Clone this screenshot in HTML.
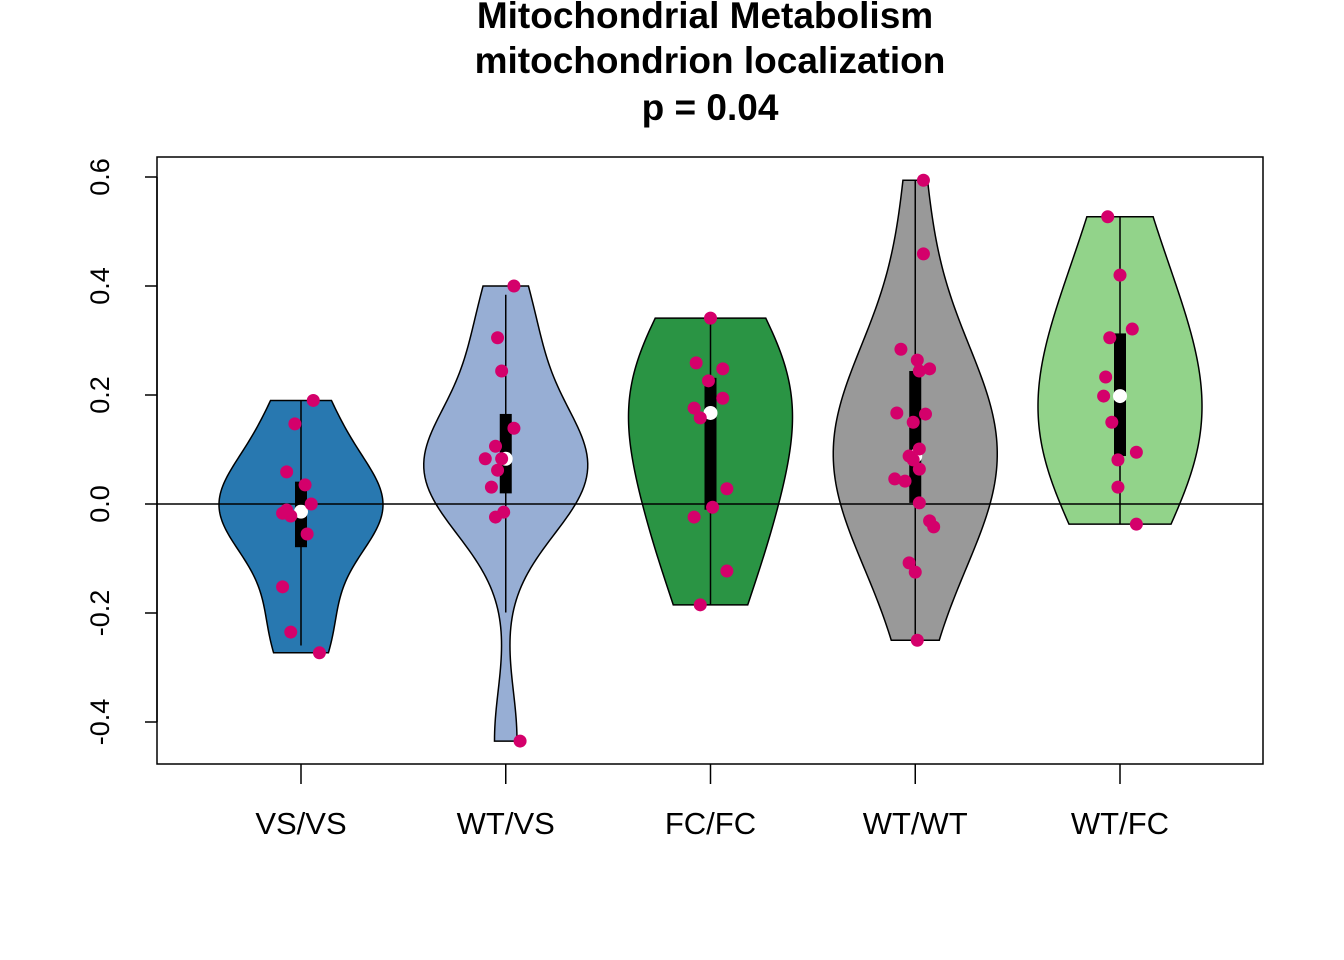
<!DOCTYPE html>
<html><head><meta charset="utf-8">
<style>body{margin:0;background:#fff}svg{display:block;font-family:"Liberation Sans",Arial,sans-serif}</style>
</head><body>
<svg id="chart" width="1344" height="960">
<text x="705" y="28" text-anchor="middle" font-size="37" font-weight="bold">Mitochondrial Metabolism</text>
<text x="710" y="73" text-anchor="middle" font-size="37" font-weight="bold">mitochondrion localization</text>
<text x="710" y="120" text-anchor="middle" font-size="37" font-weight="bold">p = 0.04</text>
<g id="plot"></g>
<rect x="157" y="157" width="1106" height="607" fill="none" stroke="#000" stroke-width="1.5"/>
</svg>
<script>
const categories=["VS/VS","WT/VS","FC/FC","WT/WT","WT/FC"];
const colors=["#2878b0","#97aed4","#2a9444","#999999","#92d38a"];
const yTicks=[-0.4,-0.2,0.0,0.2,0.4,0.6];
const yTickLabels=["-0.4","-0.2","0.0","0.2","0.4","0.6"];
const vsvs=[0.19,0.147,0.059,0.035,0.0,-0.017,-0.022,-0.011,-0.055,-0.152,-0.235,-0.273];
const vsvsJit=[0.06,-0.03,-0.07,0.02,0.05,-0.09,-0.05,-0.07,0.03,-0.09,-0.05,0.09];
const wtvs=[0.4,0.305,0.244,0.139,0.106,0.083,0.083,0.062,0.031,-0.015,-0.024,-0.435];
const wtvsJit=[0.04,-0.04,-0.02,0.04,-0.05,-0.1,-0.02,-0.04,-0.07,-0.01,-0.05,0.07];
const fcfc=[0.341,0.259,0.248,0.226,0.194,0.176,0.158,0.028,-0.006,-0.024,-0.123,-0.185];
const fcfcJit=[0,-0.07,0.06,-0.01,0.06,-0.08,-0.05,0.08,0.01,-0.08,0.08,-0.05];
const wtwt=[0.594,0.459,0.284,0.264,0.248,0.244,0.167,0.165,0.150,0.101,0.088,0.081,0.064,0.046,0.042,0.002,-0.031,-0.042,-0.108,-0.125,-0.25];
const wtwtJit=[0.04,0.04,-0.07,0.01,0.07,0.02,-0.09,0.05,-0.01,0.02,-0.03,-0.01,0.02,-0.1,-0.05,0.02,0.07,0.09,-0.03,0,0.01];
const wtfc=[0.527,0.42,0.321,0.305,0.233,0.198,0.15,0.095,0.081,0.031,-0.037];
const wtfcJit=[-0.06,0,0.06,-0.05,-0.07,-0.08,-0.04,0.08,-0.01,-0.01,0.08];
const groups=[vsvs,wtvs,fcfc,wtwt,wtfc];
const jitters=[vsvsJit,wtvsJit,fcfcJit,wtwtJit,wtfcJit];

const NS="http://www.w3.org/2000/svg";
const plot=document.getElementById('plot');
const X0=157,X1=1263;
const yS=v=>504-545*v;
const xS=i=>301+i*204.75;
const HALF=82;
function mk(tag,attrs,parent){const e=document.createElementNS(NS,tag);for(const k in attrs)e.setAttribute(k,attrs[k]);(parent||plot).appendChild(e);return e;}
function quant(s,p){const h=(s.length-1)*p,l=Math.floor(h);return s[l]+(s[Math.min(l+1,s.length-1)]-s[l])*(h-l);}

let ax=mk('line',{x1:157,y1:yS(-0.4),x2:157,y2:yS(0.6),stroke:'#000','stroke-width':1.5});

yTicks.forEach((t,i)=>{
  const y=yS(t);
  const tk=mk('line',{x1:145,y1:y,x2:157,y2:y,stroke:'#000','stroke-width':1.5});
  
  const tx=mk('text',{x:109,y:y,'font-size':27,'text-anchor':'middle',transform:`rotate(-90 109 ${y})`});
  tx.textContent=yTickLabels[i];
  
});
categories.forEach((c,i)=>{
  const x=xS(i);
  const tk=mk('line',{x1:x,y1:764,x2:x,y2:784,stroke:'#000','stroke-width':1.5});
  
  const tx=mk('text',{x:x,y:834,'font-size':31,'text-anchor':'middle'});
  tx.textContent=c;
  
});

groups.forEach((d,gi)=>{
  const s=[...d].sort((a,b)=>a-b),n=s.length;
  const mean=s.reduce((a,b)=>a+b,0)/n;
  const sd=Math.sqrt(s.reduce((a,b)=>a+(b-mean)**2,0)/(n-1));
  const q1=quant(s,0.25),q3=quant(s,0.75),med=quant(s,0.5);
  const bw=1.7*0.9*Math.min(sd,(q3-q1)/1.34)*Math.pow(n,-0.2);
  const lo=s[0],hi=s[n-1],N=100;
  const ys=[],ds=[];
  for(let k=0;k<=N;k++){const v=lo+(hi-lo)*k/N;let den=0;s.forEach(p=>den+=Math.exp(-0.5*((v-p)/bw)**2));ys.push(v);ds.push(den);}
  const mx=Math.max(...ds),cx=xS(gi);
  let pts=[];
  for(let k=0;k<=N;k++)pts.push(`${cx+ds[k]/mx*HALF},${yS(ys[k])}`);
  for(let k=N;k>=0;k--)pts.push(`${cx-ds[k]/mx*HALF},${yS(ys[k])}`);
  const vp=mk('polygon',{points:pts.join(' '),fill:colors[gi],stroke:'#000','stroke-width':1.5});
  
  
  const iqr=q3-q1;
  const wl=Math.max(lo,q1-1.5*iqr),wh=Math.min(hi,q3+1.5*iqr);
  const wk=mk('line',{x1:cx,y1:yS(wh),x2:cx,y2:yS(wl),stroke:'#000','stroke-width':1.5});
  
  const bx=mk('rect',{x:cx-6,y:yS(q3),width:12,height:yS(q1)-yS(q3),fill:'#000'});
  
  const md=mk('circle',{cx:cx,cy:yS(med),r:7,fill:'#fff'});
  
});
const zl=mk('line',{x1:X0,y1:yS(0),x2:X1,y2:yS(0),stroke:'#000','stroke-width':1.5});

groups.forEach((d,gi)=>{
  d.forEach((v,k)=>{
    const c=mk('circle',{cx:xS(gi)+jitters[gi][k]*204.75,cy:yS(v),r:6.5,fill:'#d4006b'});
    
  });
});
</script>
</body></html>
